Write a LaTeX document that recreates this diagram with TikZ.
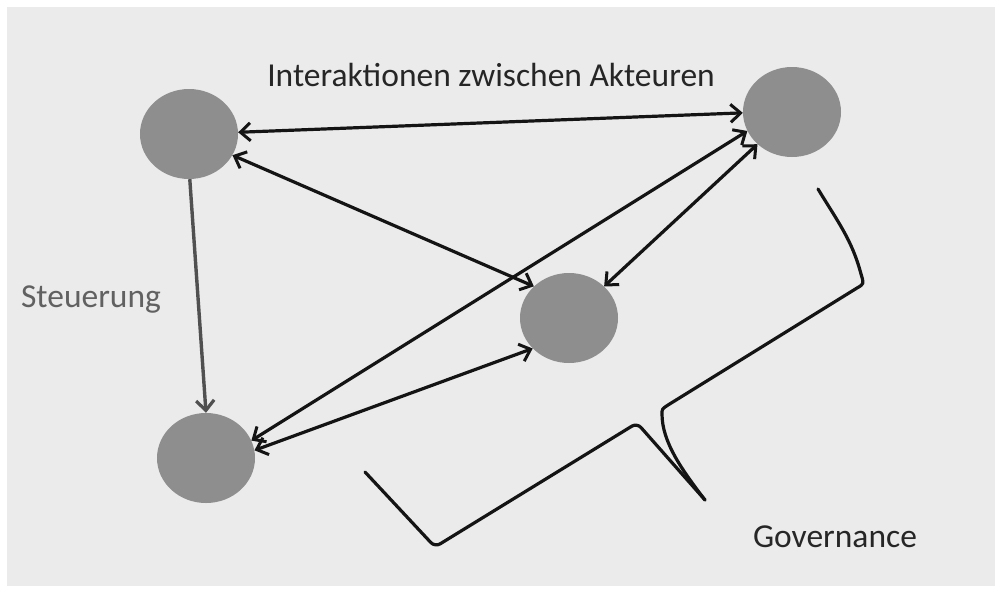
\documentclass[tikz,border=0pt]{standalone}
\usepackage{fontspec}
\setmainfont{Carlito}
\usetikzlibrary{arrows.meta,shapes.geometric}
\definecolor{panel}{HTML}{EBEBEB}
\definecolor{actor}{HTML}{8E8E8E}
\definecolor{darktext}{HTML}{262626}
\definecolor{steer}{HTML}{505050}
\tikzset{
  actornode/.style={ellipse, fill=actor, minimum width=98pt, minimum height=90pt, inner sep=0pt},
  link/.style={line width=3.2pt, draw=black!92, {Straight Barb[length=10pt,width=18pt,line width=3pt]}-{Straight Barb[length=10pt,width=18pt,line width=3pt]}},
  steerlink/.style={line width=3.4pt, draw=steer, -{Straight Barb[length=10pt,width=18pt,line width=3.2pt]}},
  label/.style={font=\fontsize{33.5}{38}\selectfont, inner sep=0pt},
  bracestyle/.style={line width=3.2pt, draw=black!92, line cap=round, line join=round}
}
\begin{document}
\begin{tikzpicture}[x=1pt,y=-1pt]
\useasboundingbox (0,0) rectangle (995,590);
\fill[white] (0,0) rectangle (995,590);
\fill[panel] (7,7) rectangle (995,586);

\node[actornode] (A) at (189,134) {};
\node[actornode] (B) at (792,112) {};
\node[actornode] (C) at (569,318) {};
\node[actornode] (D) at (206,458) {};

\node[label, text=darktext] (lint) at (491,75) {Interaktionen zwischen Akteuren};
\node[label, text=steer!90] (lsteer) at (91,300) {Steuerung};
\node[label, text=darktext] (lgov) at (835,537) {Governance};

\draw[link] (A.2) -- (B.181);
\draw[link] (A.-26) -- (C.138);
\draw[link] (D.21) -- (B.203);
\draw[link] (C.42) -- (B.223);
\draw[link] (D.9) -- (C.220);
\draw[steerlink] (A.-89) -- (D.90);

\draw[bracestyle, rounded corners=6pt]
  (365,472) -- (435,547) -- (637,423) -- (705,500);
\draw[bracestyle]
  (705,500) .. controls (682,470) and (662,442) .. (662,414)
  .. controls (662,409) .. (668,405) -- (857,288)
  .. controls (864,284) .. (861,274)
  .. controls (852,240) and (838,222) .. (818,189);
\end{tikzpicture}
\end{document}
